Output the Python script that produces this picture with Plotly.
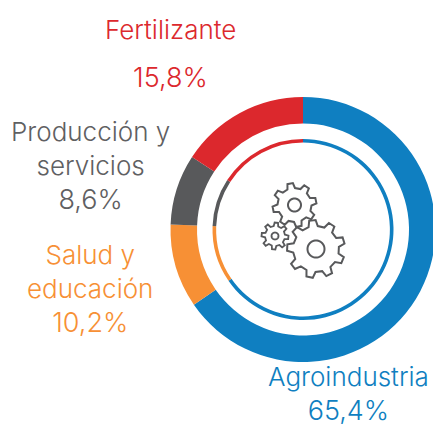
import math
import plotly.graph_objects as go

categories = ["Agroindustria", "Salud y<br>educación", "Producción y<br>servicios", "Fertilizante"]
shares = [65.4, 10.2, 8.6, 15.8]
slice_colors = ["#0f7fc1", "#f79035", "#58595b", "#dc282d"]
text_colors = ["#0f7fc1", "#f79035", "#5f6062", "#dc282d"]

W, H = 436, 428
CX, CY = 303, 229.5
FONT = "Inter"
ICON = "#58595b"
NAME_SIZE = 26
PCT_SIZE = 27


def domain(r):
    return dict(x=[(CX - r) / W, (CX + r) / W], y=[1 - (CY + r) / H, 1 - (CY - r) / H])


def pie(r, hole):
    return go.Pie(
        values=shares, labels=[c.replace("<br>", " ") for c in categories],
        marker=dict(colors=slice_colors, line=dict(width=0)),
        sort=False, direction="clockwise", rotation=0, hole=hole,
        textinfo="none", hoverinfo="label+percent", showlegend=False,
        domain=domain(r),
    )


def px(x):
    return x / W


def py(y):
    return 1 - y / H


def circle_path(cx, cy, r, n=48):
    pts = [(cx + r * math.cos(2 * math.pi * i / n), cy + r * math.sin(2 * math.pi * i / n)) for i in range(n)]
    return "M" + "L".join(f"{px(a):.5f},{py(b):.5f}" for a, b in pts) + "Z"


def gear_path(cx, cy, outer, root, teeth, phase):
    pts = []
    step = 2 * math.pi / teeth
    for i in range(teeth):
        a = phase + i * step
        for frac, r in ((-0.29, root), (-0.16, outer), (0.16, outer), (0.29, root)):
            t = a + frac * step
            pts.append((cx + r * math.cos(t), cy + r * math.sin(t)))
    return "M" + "L".join(f"{px(a):.5f},{py(b):.5f}" for a, b in pts) + "Z"


def gear_shapes(cx, cy, outer, root, hole, teeth, phase, lw):
    common = dict(type="path", xref="paper", yref="paper", line=dict(color=ICON, width=lw), fillcolor="white")
    return [
        dict(path=gear_path(cx, cy, outer, root, teeth, phase), **common),
        dict(path=circle_path(cx, cy, hole), **common),
    ]


def note(text, x, y, col):
    return dict(
        text=text, x=px(x), y=py(y), xref="paper", yref="paper",
        xanchor="center", yanchor="middle", align="center", showarrow=False,
        font=dict(family=FONT, size=26, color=col, weight=300),
    )


def span(text, size):
    return f'<span style="font-size:{size}px">{text}</span>'


def pct(val):
    return f"{val:.1f}".replace(".", ",") + "%"


shapes = []
shapes += gear_shapes(294.5, 205, 22, 17, 6.5, 8, -0.2, 2)
shapes += gear_shapes(275, 236, 13.5, 10, 3.5, 8, 0.1, 1.8)
shapes += gear_shapes(316, 249, 29, 23, 8.5, 9, -0.3, 2)

block_centres = [(348, 394), (90, 289), (90, 166)]
annotations = []
for cat, val, col, (x, y) in zip(categories[:3], shares[:3], text_colors[:3], block_centres):
    lines = [span(n, NAME_SIZE) for n in cat.split("<br>")] + [span(pct(val), PCT_SIZE)]
    annotations.append(note("<br>".join(lines), x, y, col))
annotations.append(note(span(categories[3], NAME_SIZE), 170.5, 29, text_colors[3]))
annotations.append(note(span(pct(shares[3]), PCT_SIZE), 170.5, 77, text_colors[3]))

fig = go.Figure([pie(132.5, 0.8), pie(90.5, 0.96)])
fig.update_layout(
    width=W, height=H, margin=dict(l=0, r=0, t=0, b=0),
    paper_bgcolor="white", plot_bgcolor="white",
    shapes=shapes, annotations=annotations,
)
fig.write_html(
    "out.html", config=dict(displayModeBar=False),
    post_script="document.body.style.margin='0';document.documentElement.style.overflow='hidden';document.body.style.overflow='hidden';",
)
